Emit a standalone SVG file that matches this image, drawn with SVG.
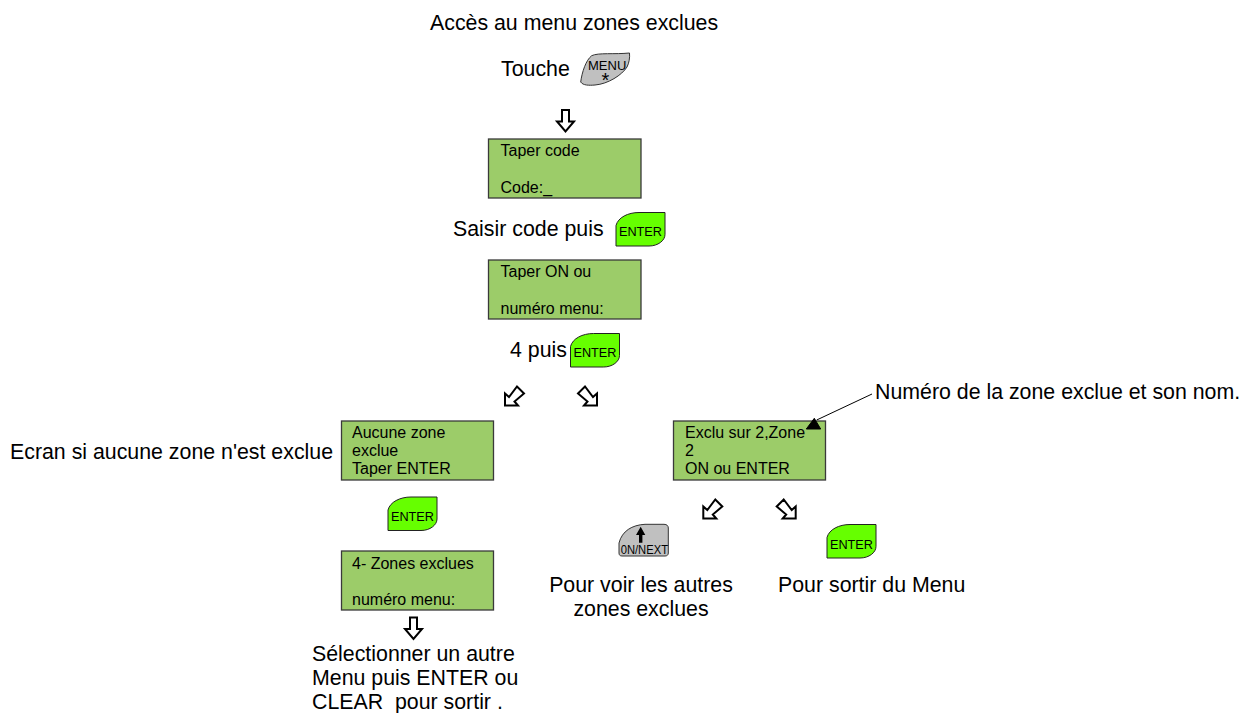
<svg xmlns="http://www.w3.org/2000/svg" width="1242" height="713" viewBox="0 0 1242 713">
<style>
text{font-family:"Liberation Sans",Arial,sans-serif;fill:#000;white-space:pre}
.l{font-size:21.33px}
.b{font-size:16px}
.k{font-size:13px}
.lcd{fill:#9ccc69;stroke:#3a3a3a;stroke-width:1.3}
.ent{fill:#66ff00;stroke:#222;stroke-width:1}
.gr{fill:#c0c0c0;stroke:#333;stroke-width:1}
.ar{fill:#fff;stroke:#000;stroke-width:2;stroke-linejoin:miter}
</style>
<defs>
<path id="down" class="ar" d="M-3.500-11H3.500V0.500H8.500L0 10.500L-8.500 0.500H-3.500Z"/>
<path id="diag" class="ar" d="M505 405.500V393.500L509 397L517 386.500L524 393.500L514.500 401.500L518 405.500Z"/>
<path id="enterkey" class="ent" d="M0 33.500V13C2 5 12 0 23 0H49V22C49 28 42 33.500 33 33.500Z"/>
</defs>
<g id="title"><text class="l" x="430" y="30">Accès au menu zones exclues</text></g>
<g id="touche"><text class="l" x="501" y="75.500">Touche</text>
<path class="gr" d="M580.700 82C582 72 586 60 591.700 55.700C598 52.500 615 54.500 629.500 53C630 58 629 63 627 67C622 75 608 84 595 85C589 85.500 583 85.500 580.700 82Z"/>
<text class="k" x="588" y="69.500">MENU</text>
<text x="601.500" y="87" style="font-size:20px">*</text></g>
<g id="connectors">
<use href="#down" x="565.500" y="121"/>
<use href="#down" x="413.500" y="628.500"/>
<use id="a1" href="#diag"/>
<use id="a2" href="#diag" transform="matrix(-1 0 0 1 1102 0)"/>
<use id="a3" href="#diag" transform="translate(198.300 113)"/>
<use id="a4" href="#diag" transform="matrix(-1 0 0 1 1300.700 113)"/>
<path d="M872 394L816.700 420" fill="none" stroke="#000" stroke-width="1"/>
</g>
<g id="lcd1"><rect class="lcd" x="488.500" y="139" width="152.500" height="59"/><text class="b" x="500.500" y="156">Taper code</text><text class="b" x="500.500" y="193">Code:_</text></g>
<g id="saisir"><text class="l" x="453" y="236">Saisir code puis</text><use href="#enterkey" x="616" y="212.500"/><text class="k" x="619" y="236" textLength="43" lengthAdjust="spacingAndGlyphs">ENTER</text></g>
<g id="lcd2"><rect class="lcd" x="488.500" y="260" width="152.500" height="59"/><text class="b" x="500.500" y="277">Taper ON ou</text><text class="b" x="500.500" y="314">numéro menu:</text></g>
<g id="puis"><text class="l" x="510" y="356.500">4 puis</text><use href="#enterkey" x="570.500" y="333.500"/><text class="k" x="573.500" y="357" textLength="43" lengthAdjust="spacingAndGlyphs">ENTER</text></g>
<g id="note"><text class="l" x="875" y="399">Numéro de la zone exclue et son nom.</text></g>
<g id="ecran"><text class="l" x="10" y="459">Ecran si aucune zone n'est exclue</text></g>
<g id="lcd3"><rect class="lcd" x="341.500" y="421" width="152" height="59"/><text class="b" x="352" y="438">Aucune zone</text><text class="b" x="352" y="456">exclue</text><text class="b" x="352" y="474">Taper ENTER</text></g>
<g id="lcd5"><rect class="lcd" x="673.500" y="421" width="152" height="59"/><text class="b" x="685" y="438">Exclu sur 2,Zone</text><text class="b" x="685" y="456">2</text><text class="b" x="685" y="474">ON ou ENTER</text></g>
<path id="leader-head" d="M806.300 429L820.700 429L814.300 418.300Z" fill="#000" stroke="#000" stroke-width="1"/>
<g id="enterleft"><use href="#enterkey" x="388" y="497"/><text class="k" x="391" y="521" textLength="43" lengthAdjust="spacingAndGlyphs">ENTER</text></g>
<g id="lcd4"><rect class="lcd" x="341.500" y="551" width="152" height="59"/><text class="b" x="352" y="568.500">4- Zones exclues</text><text class="b" x="352" y="605">numéro menu:</text></g>
<g id="select"><text class="l" x="312" y="661">Sélectionner un autre</text><text class="l" x="312" y="685">Menu puis ENTER ou</text><text class="l" x="312" y="709">CLEAR  pour sortir .</text></g>
<g id="onnext"><path class="gr" d="M619 553V543C622 531 632 525 645 524.300H664C667 524.300 668.300 526 668.300 528V553C668.300 555 667 556 665 556H622C620 556 619 555 619 553Z"/>
<path d="M640.700 526.700L645.300 535H642.400V542.700H639V535H636Z" fill="#000"/>
<text x="620.700" y="553.500" style="font-size:13.500px" textLength="47.300" lengthAdjust="spacingAndGlyphs">0N/NEXT</text></g>
<g id="enterright"><use href="#enterkey" x="827" y="524.500"/><text class="k" x="830" y="549" textLength="43" lengthAdjust="spacingAndGlyphs">ENTER</text></g>
<g id="voir"><text class="l" x="641" y="592" text-anchor="middle">Pour voir les autres</text><text class="l" x="641" y="616" text-anchor="middle">zones exclues</text></g>
<g id="sortir"><text class="l" x="778" y="592">Pour sortir du Menu</text></g>
</svg>
